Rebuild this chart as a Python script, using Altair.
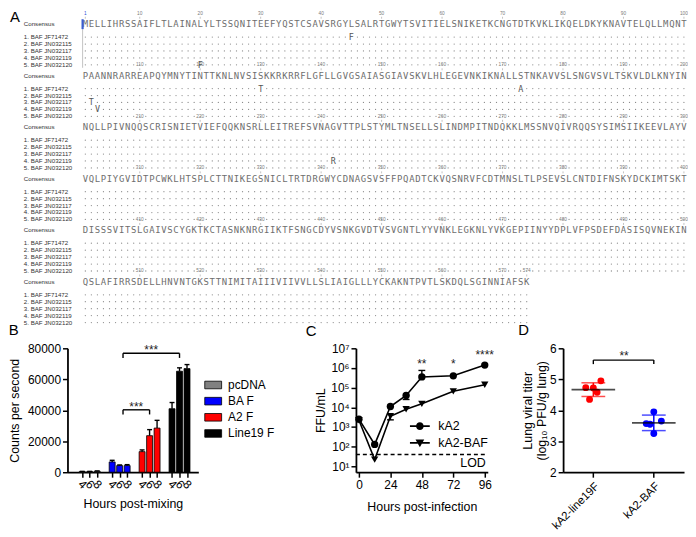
import altair as alt
import pandas as pd

FONT = "Liberation Sans"
MONO = "DejaVu Sans Mono"

# ------------------------------------------------------------------ data: panel A
CONSENSUS_BLOCKS = [
    "MELLIHRSSAIFLTLAINALYLTSSQNITEEFYQSTCSAVSRGYLSALRTGWYTSVITIELSNIKETKCNGTDTKVKLIKQELDKYKNAVTELQLLMQNT",
    "PAANNRARREAPQYMNYTINTTKNLNVSISKKRKRRFLGFLLGVGSAIASGIAVSKVLHLEGEVNKIKNALLSTNKAVVSLSNGVSVLTSKVLDLKNYIN",
    "NQLLPIVNQQSCRISNIETVIEFQQKNSRLLEITREFSVNAGVTTPLSTYMLTNSELLSLINDMPITNDQKKLMSSNVQIVRQQSYSIMSIIKEEVLAYV",
    "VQLPIYGVIDTPCWKLHTSPLCTTNIKEGSNICLTRTDRGWYCDNAGSVSFFPQADTCKVQSNRVFCDTMNSLTLPSEVSLCNTDIFNSKYDCKIMTSKT",
    "DISSSVITSLGAIVSCYGKTKCTASNKNRGIIKTFSNGCDYVSNKGVDTVSVGNTLYYVNKLEGKNLYVKGEPIINYYDPLVFPSDEFDASISQVNEKIN",
    "QSLAFIRRSDELLHNVNTGKSTTNIMITAIIIVIIVVLLSLIAIGLLLYCKAKNTPVTLSKDQLSGINNIAFSK",
]
ISOLATES = ["1. BAF JF71472", "2. BAF JN032115", "3. BAF JN032117",
            "4. BAF JN032119", "5. BAF JN032120"]
VAR_ISOLATE = [5, 1, 3, 4, 1, 1, 4]
VAR_POS = [20, 45, 102, 103, 130, 173, 242]
VAR_AA = ["F", "F", "T", "V", "T", "A", "R"]
RULER_MARKS = [1, 10, 20, 30, 40, 50, 60, 70, 80, 90, 100,
               110, 120, 130, 140, 150, 160, 170, 180, 190, 200,
               210, 220, 230, 240, 250, 260, 270, 280, 290, 300,
               310, 320, 330, 340, 350, 360, 370, 380, 390, 400,
               410, 420, 430, 440, 450, 460, 470, 480, 490, 500,
               510, 520, 530, 540, 550, 560, 570, 574]

# ------------------------------------------------------------------ data: panel B
B_GROUPS = ["pcDNA", "BA F", "A2 F", "Line19 F"]
B_HOURS = ["4", "6", "8"]
B_MEAN = [[400, 400, 600], [6650, 4300, 4300], [13300, 23600, 28500], [41000, 65200, 66900]]
B_ERR = [[150, 150, 250], [1050, 400, 600], [1100, 3900, 5000], [4000, 2200, 2600]]
B_COLORS = ["#808080", "#0000ff", "#ff0000", "#000000"]
B_YTICKS = [0, 20000, 40000, 60000, 80000]
B_BRACKET_FROM = [("BA F", "6"), ("BA F", "6")]
B_BRACKET_TO = [("A2 F", "6"), ("Line19 F", "6")]
B_BRACKET_Y = [40300, 76800]
B_BRACKET_TXT = ["***", "***"]

# ------------------------------------------------------------------ data: panel C
C_HOURS = [0, 12, 24, 36, 48, 72, 96]
C_SERIES = ["kA2", "kA2-BAF"]
C_KA2 = [2500, 130, 11000, 40000, 350000, 400000, 1400000]
C_BAF = [2200, 22, 3500, 8000, 15000, 65000, 140000]
C_ERR_SERIES = ["kA2", "kA2", "kA2-BAF"]
C_ERR_HOUR = [36, 48, 24]
C_ERR_LO = [25000, 350000, 2300]
C_ERR_HI = [40000, 750000, 3500]
C_XTICKS = [0, 24, 48, 72, 96]
C_YTICKS = [10, 100, 1000, 10000, 100000, 1000000, 10000000]
C_STAR_HOUR = [48, 72, 96]
C_STAR_TXT = ["**", "*", "****"]
C_STAR_Y = [980000, 980000, 2800000]
C_LOD = 40

# ------------------------------------------------------------------ data: panel D
D_GROUPS = ["kA2-line19F", "kA2-BAF"]
D_COLORS = ["#ff0000", "#0000ff"]
D_VALUES = [[4.95, 4.73, 4.72, 4.58, 4.35], [3.95, 3.65, 3.57, 3.55, 3.25]]
D_JITTER = [[2, -2, 0, 1, -1], [0, 2, -2, -1, 0]]
D_YTICKS = [2, 3, 4, 5, 6]
D_BRACKET_Y = 5.62
D_BRACKET_TXT = "**"

# ================================================================== layout constants
A_W, A_H = 622, 318
PX_PER_RES = 6.1
A_X0 = 1 - 18 / PX_PER_RES
A_X1 = A_X0 + A_W / PX_PER_RES
A_Y0 = -11
A_Y1 = A_Y0 + A_H
BLOCK_STEP = 52
ROW_OFF = [13, 20, 27, 34, 41]
LABEL_COL = 1 - (84 - 22) / PX_PER_RES
LETTER_COL = 1 - (84 - 8) / PX_PER_RES

# ================================================================== panel A
cons, dots, muts, labels, ruler = [], [], [], [], []
var_map = {(r, p): a for r, p, a in zip(VAR_ISOLATE, VAR_POS, VAR_AA)}
pos = 0
for b, seq in enumerate(CONSENSUS_BLOCKS):
    base = b * BLOCK_STEP
    labels.append(dict(col=LABEL_COL, y=base, txt="Consensus"))
    for r, name in enumerate(ISOLATES):
        labels.append(dict(col=LABEL_COL, y=base + ROW_OFF[r], txt=name))
    for c, aa in enumerate(seq):
        pos += 1
        cons.append(dict(col=c + 1, y=base, ch=aa))
        for r in range(len(ISOLATES)):
            key = (r + 1, pos)
            if key in var_map:
                muts.append(dict(col=c + 1, y=base + ROW_OFF[r], ch=var_map[key]))
            else:
                dots.append(dict(col=c + 1, y=base + ROW_OFF[r]))
for m in RULER_MARKS:
    b, c = divmod(m - 1, 100)
    base = b * BLOCK_STEP
    ruler.append(dict(col=c + 1, y=base - 10.5, y0=base - 7.5, y1=base - 5.5,
                      txt=str(m), first=(m == 1)))

A_YSCALE = alt.Scale(domain=[A_Y0, A_Y1], nice=False, zero=False, reverse=True)
ax = alt.X("col:Q", scale=alt.Scale(domain=[A_X0, A_X1], nice=False, zero=False), axis=None)
ay = alt.Y("y:Q", scale=A_YSCALE, axis=None)

a_labels = alt.Chart(pd.DataFrame(labels)).mark_text(
    align="left", font=FONT, fontSize=6.2, color="#333333").encode(x=ax, y=ay, text="txt:N")
a_cons = alt.Chart(pd.DataFrame(cons)).mark_text(
    font=MONO, fontSize=9, color="#6e6e6e").encode(x=ax, y=ay, text="ch:N")
a_dots = alt.Chart(pd.DataFrame(dots)).mark_circle(
    size=1.6, color="#8c8c8c", opacity=1).encode(x=ax, y=ay)
a_muts = alt.Chart(pd.DataFrame(muts)).mark_text(
    font=MONO, fontSize=8.5, color="#555555").encode(x=ax, y=ay, text="ch:N")
rdf = pd.DataFrame(ruler)
a_rnum = alt.Chart(rdf).mark_text(font=FONT, fontSize=4.8).encode(
    x=ax, y=ay, text="txt:N",
    color=alt.condition("datum.first", alt.value("#2b4fd6"), alt.value("#7a7a7a")))
a_rtick = alt.Chart(rdf).mark_rule(strokeWidth=0.6, color="#999999").encode(
    x=ax, y=alt.Y("y0:Q", scale=A_YSCALE, axis=None), y2="y1:Q")
a_letter = alt.Chart(pd.DataFrame([dict(col=LETTER_COL, y=-7, txt="A")])).mark_text(
    align="left", font=FONT, fontSize=15, color="black").encode(x=ax, y=ay, text="txt:N")
cursor = pd.DataFrame([dict(col=0.55, y=-5, y2=5, yb=44)])
a_cur = alt.Chart(cursor).mark_rule(strokeWidth=2.2, color="#3a5fd0").encode(
    x=ax, y=ay, y2="y2:Q")
a_curline = alt.Chart(cursor).mark_rule(strokeWidth=0.6, color="#9a9a9a").encode(
    x=ax, y=alt.Y("y2:Q", scale=A_YSCALE, axis=None), y2="yb:Q")

panel_a = alt.layer(a_curline, a_rtick, a_rnum, a_labels, a_cons, a_dots, a_muts, a_cur,
                    a_letter).properties(width=A_W, height=A_H)

# ================================================================== panel B
NSLOT = len(B_HOURS) + 1
brows = []
for g, grp in enumerate(B_GROUPS):
    for h, hr in enumerate(B_HOURS):
        s = g * NSLOT + h
        brows.append(dict(group=grp, hour=hr, slot=s, mean=B_MEAN[g][h],
                          hi=B_MEAN[g][h] + B_ERR[g][h], c0=s - 0.33, c1=s + 0.33))
bdf = pd.DataFrame(brows)
slot_values = [int(r["slot"]) for r in brows]


def slot_of(g, h):
    return B_GROUPS.index(g) * NSLOT + B_HOURS.index(h)


brk = []
for (g1, h1), (g2, h2), yv, t in zip(B_BRACKET_FROM, B_BRACKET_TO, B_BRACKET_Y, B_BRACKET_TXT):
    x1 = slot_of(g1, h1) + 0.45
    x2 = slot_of(g2, h2)
    brk.append(dict(x1=x1, x2=x2, xm=(x1 + x2) / 2, y=yv, yd=yv - 3000, txt=t))
brkdf = pd.DataFrame(brk)

bx_scale = alt.Scale(domain=[-1.31, 14.85], nice=False, zero=False)
by_scale = alt.Scale(domain=[0, 80000], nice=False)
hour_arr = "[" + ",".join("'%s'" % h for h in B_HOURS) + ",'']"
label_expr_b = hour_arr + "[datum.value % " + str(NSLOT) + "]"
AXB_X = alt.Axis(values=slot_values, labelExpr=label_expr_b, labelOverlap=False,
                 labelAngle=45, labelAlign="center", labelBaseline="middle",
                 labelPadding=7, title="Hours post-mixing", titlePadding=7)
AXB_Y = alt.Axis(values=B_YTICKS, format="d", labelOverlap=False,
                 title="Counts per second", titlePadding=6)


def BX(f):
    return alt.X(f, scale=bx_scale, axis=AXB_X)


def BY(f):
    return alt.Y(f, scale=by_scale, axis=AXB_Y)


b_bars = alt.Chart(bdf).mark_bar(size=6, stroke="black", strokeWidth=0.8).encode(
    x=BX("slot:Q"), y=BY("mean:Q"),
    color=alt.Color("group:N", scale=alt.Scale(domain=B_GROUPS, range=B_COLORS),
                    legend=alt.Legend(title=None, orient="none", legendX=138, legendY=28,
                                      symbolType="M-1,-0.45H1V0.45H-1Z", symbolSize=289,
                                      symbolStrokeColor="black", symbolStrokeWidth=0.8,
                                      symbolOpacity=1, labelFontSize=12, labelFont=FONT,
                                      labelOffset=6, rowPadding=1.3, labelColor="black")))
b_err = alt.Chart(bdf).mark_rule(color="black", strokeWidth=1.4).encode(
    x=BX("slot:Q"), y=BY("mean:Q"), y2="hi:Q")
b_cap = alt.Chart(bdf).mark_rule(color="black", strokeWidth=1.4).encode(
    x=BX("c0:Q"), x2="c1:Q", y=BY("hi:Q"))
b_bh = alt.Chart(brkdf).mark_rule(color="black", strokeWidth=1.4).encode(
    x=BX("x1:Q"), x2="x2:Q", y=BY("y:Q"))
b_bl = alt.Chart(brkdf).mark_rule(color="black", strokeWidth=1.4).encode(
    x=BX("x1:Q"), y=BY("y:Q"), y2="yd:Q")
b_br = alt.Chart(brkdf).mark_rule(color="black", strokeWidth=1.4).encode(
    x=BX("x2:Q"), y=BY("y:Q"), y2="yd:Q")
b_txt = alt.Chart(brkdf).mark_text(font=FONT, fontSize=12, baseline="alphabetic", dy=1,
                                   color="#222222").encode(x=BX("xm:Q"), y=BY("y:Q"), text="txt:N")

panel_b = alt.layer(b_bars, b_err, b_cap, b_bh, b_bl, b_br, b_txt).properties(
    width=132, height=125,
    title=alt.Title("B", anchor="start", frame="bounds", fontSize=15, fontWeight="normal",
                    font=FONT, offset=4, dx=0))

# ================================================================== panel C
crows = []
for s, vals in zip(C_SERIES, [C_KA2, C_BAF]):
    for t, v in zip(C_HOURS, vals):
        crows.append(dict(series=s, hour=t, value=v))
cdf = pd.DataFrame(crows)
value_at = {(r["series"], r["hour"]): r["value"] for r in crows}
err_rows, cap_rows = [], []
for s, t, lo, hi in zip(C_ERR_SERIES, C_ERR_HOUR, C_ERR_LO, C_ERR_HI):
    err_rows.append(dict(hour=t, lo=lo, hi=hi))
    v = value_at[(s, t)]
    if lo < v:
        cap_rows.append(dict(c0=t - 2.6, c1=t + 2.6, cap=lo))
    if hi > v:
        cap_rows.append(dict(c0=t - 2.6, c1=t + 2.6, cap=hi))
cerr = pd.DataFrame(err_rows)
cerr_cap = pd.DataFrame(cap_rows)

XC0, XC1 = -2.3, 98.3
cx_scale = alt.Scale(domain=[XC0, XC1], nice=False, zero=False)
cy_scale = alt.Scale(type="log", domain=[5, 1e7], nice=False)
sup = "['\u2070','\u00b9','\u00b2','\u00b3','\u2074','\u2075','\u2076','\u2077']"
AXC_X = alt.Axis(values=C_XTICKS, title="Hours post-infection", titlePadding=11, labelOverlap=False)
AXC_Y = alt.Axis(values=C_YTICKS, labelExpr="'10' + " + sup + "[round(log(datum.value)/LN10)]",
                 labelOverlap=False, title="FFU/mL", titlePadding=3)


def CX(f):
    return alt.X(f, scale=cx_scale, axis=AXC_X)


def CY(f):
    return alt.Y(f, scale=cy_scale, axis=AXC_Y)


c_lines = alt.Chart(cdf).mark_line(color="black", strokeWidth=1.6).encode(
    x=CX("hour:Q"), y=CY("value:Q"), detail="series:N")
c_err = alt.Chart(cerr).mark_rule(color="black", strokeWidth=1.4).encode(
    x=CX("hour:Q"), y=CY("lo:Q"), y2="hi:Q")
c_cap = alt.Chart(cerr_cap).mark_rule(color="black", strokeWidth=1.4).encode(
    x=CX("c0:Q"), x2="c1:Q", y=CY("cap:Q"))
c_pts = alt.Chart(cdf).mark_point(filled=True, size=55, color="black", opacity=1).encode(
    x=CX("hour:Q"), y=CY("value:Q"),
    shape=alt.Shape("series:N", scale=alt.Scale(domain=C_SERIES, range=["circle", "triangle-down"]),
                    legend=None))
LEG_PATHS = [
    "M-1,-0.09H-0.3V0.09H-1Z M0.3,-0.09H1V0.09H0.3Z "
    "M0.38,0A0.38,0.38,0,1,1,-0.38,0A0.38,0.38,0,1,1,0.38,0Z",
    "M-1,-0.09H-0.22V0.09H-1Z M0.22,-0.09H1V0.09H0.22Z "
    "M-0.44,-0.34L0.44,-0.34L0,0.42Z",
]
c_leg = alt.Chart(cdf).mark_point(filled=True, opacity=0, color="black").encode(
    x=CX("hour:Q"), y=CY("value:Q"),
    shape=alt.Shape("series:N", scale=alt.Scale(domain=C_SERIES, range=LEG_PATHS),
                    legend=alt.Legend(title=None, orient="none", legendX=54, legendY=68,
                                      symbolSize=400, symbolStrokeColor="black",
                                      symbolFillColor="black", symbolStrokeWidth=0.5,
                                      symbolOpacity=1, labelFontSize=12.5, labelFont=FONT,
                                      labelColor="black", labelOffset=8, rowPadding=-2)))
lod = pd.DataFrame([dict(x0=XC0, x1=XC1, y=C_LOD, txt="LOD")])
c_lod = alt.Chart(lod).mark_rule(color="black", strokeWidth=1.5, strokeDash=[4, 3]).encode(
    x=CX("x0:Q"), x2="x1:Q", y=CY("y:Q"))
c_lodt = alt.Chart(lod).mark_text(align="right", font=FONT, fontSize=12.5, dy=9, dx=-2,
                                  color="black").encode(x=CX("x1:Q"), y=CY("y:Q"), text="txt:N")
cst = pd.DataFrame(dict(hour=C_STAR_HOUR, y=C_STAR_Y, txt=C_STAR_TXT))
c_st = alt.Chart(cst).mark_text(font=FONT, fontSize=12, baseline="alphabetic", color="#222222").encode(
    x=CX("hour:Q"), y=CY("y:Q"), text="txt:N")

panel_c = alt.layer(c_lod, c_lines, c_err, c_cap, c_pts, c_leg, c_lodt, c_st).resolve_scale(
    shape="independent").properties(
    width=133, height=125,
    title=alt.Title("C", anchor="start", frame="bounds", fontSize=15, fontWeight="normal",
                    font=FONT, offset=3, dx=-9))

# ================================================================== panel D
drows = []
for g, grp in enumerate(D_GROUPS):
    for v, j in zip(D_VALUES[g], D_JITTER[g]):
        drows.append(dict(group=grp, value=v, jit=j))
ddf = pd.DataFrame(drows)
JIT_LEVELS = list(range(-8, 9))
dx_scale = alt.Scale(domain=D_GROUPS, paddingInner=0, paddingOuter=0)
dy_scale = alt.Scale(domain=[2, 6], nice=False, zero=False)
dcol = alt.Color("group:N", scale=alt.Scale(domain=D_GROUPS, range=D_COLORS), legend=None)
AXD_X = alt.Axis(labelAngle=-45, labelAlign="right", labelBaseline="top",
                 title=None, labelPadding=3, labelFontSize=11.5)
AXD_Y = alt.Axis(values=D_YTICKS, labelOverlap=False,
                 title=["Lung viral titer", "(log\u2081\u2080 PFU/g lung)"], titlePadding=1)


def DX(f):
    return alt.X(f, scale=dx_scale, sort=D_GROUPS, axis=AXD_X)


def DY(f):
    return alt.Y(f, scale=dy_scale, axis=AXD_Y)


d_stats = alt.Chart(ddf).transform_aggregate(
    mean="mean(value)", sd="stdev(value)", groupby=["group"]).transform_calculate(
    lo="datum.mean - datum.sd", hi="datum.mean + datum.sd")
d_err = d_stats.mark_rule(strokeWidth=1.5).encode(x=DX("group:N"), y=DY("lo:Q"), y2="hi:Q", color=dcol)
d_cap_hi = d_stats.mark_tick(size=24, thickness=1.5).encode(x=DX("group:N"), y=DY("hi:Q"), color=dcol)
d_cap_lo = d_stats.mark_tick(size=24, thickness=1.5).encode(x=DX("group:N"), y=DY("lo:Q"), color=dcol)
d_mean = d_stats.mark_tick(size=44, thickness=1.6, color="black").encode(
    x=DX("group:N"), y=DY("mean:Q"))
d_pts = alt.Chart(ddf).mark_circle(size=48, opacity=1).encode(
    x=DX("group:N"), y=DY("value:Q"), color=dcol,
    xOffset=alt.XOffset("jit:O", scale=alt.Scale(domain=JIT_LEVELS, paddingOuter=0, paddingInner=0)))
dbr = pd.DataFrame([dict(g1=D_GROUPS[0], g2=D_GROUPS[1], y=D_BRACKET_Y, yd=D_BRACKET_Y - 0.13,
                         txt=D_BRACKET_TXT, gm=D_GROUPS[0])])
d_bh = alt.Chart(dbr).mark_rule(color="black", strokeWidth=1.4).encode(
    x=DX("g1:N"), x2="g2:N", y=DY("y:Q"))
d_bl = alt.Chart(dbr).mark_rule(color="black", strokeWidth=1.4).encode(
    x=DX("g1:N"), y=DY("y:Q"), y2="yd:Q")
d_br = alt.Chart(dbr).mark_rule(color="black", strokeWidth=1.4).encode(
    x=DX("g2:N"), y=DY("y:Q"), y2="yd:Q")
d_txt = alt.Chart(dbr).mark_text(font=FONT, fontSize=12, baseline="alphabetic", color="#222222",
                                 dx=31).encode(x=DX("gm:N"), y=DY("y:Q"), text="txt:N")

panel_d = alt.layer(d_pts, d_err, d_cap_hi, d_cap_lo, d_mean, d_bh, d_bl, d_br, d_txt).properties(
    width=122, height=125,
    title=alt.Title("D", anchor="start", frame="bounds", fontSize=15, fontWeight="normal",
                    font=FONT, offset=4, dx=-3))

# spacer view so that the gaps between panels can differ
spacer = alt.Chart(pd.DataFrame({"v": [0]})).mark_point(opacity=0).encode(
    x=alt.X("v:Q", axis=None), y=alt.Y("v:Q", axis=None)).properties(width=7, height=125)

# ================================================================== assemble
bottom = alt.hconcat(panel_b, spacer, panel_c, panel_d, spacing=76, bounds="flush").resolve_scale(
    color="independent", shape="independent")
chart = alt.vconcat(panel_a, bottom, spacing=20, bounds="flush").resolve_scale(
    color="independent", shape="independent").properties(
    padding=0, background="white"
).configure_view(stroke=None).configure_axis(
    domainColor="black", domainWidth=1.8, tickColor="black", tickWidth=1.5, tickSize=5,
    labelColor="black", titleColor="black", labelFont=FONT, titleFont=FONT,
    labelFontSize=12, titleFontSize=12.5, titleFontWeight="normal", grid=False
)

chart.save("out.html", embed_options={"renderer": "svg", "actions": False})
